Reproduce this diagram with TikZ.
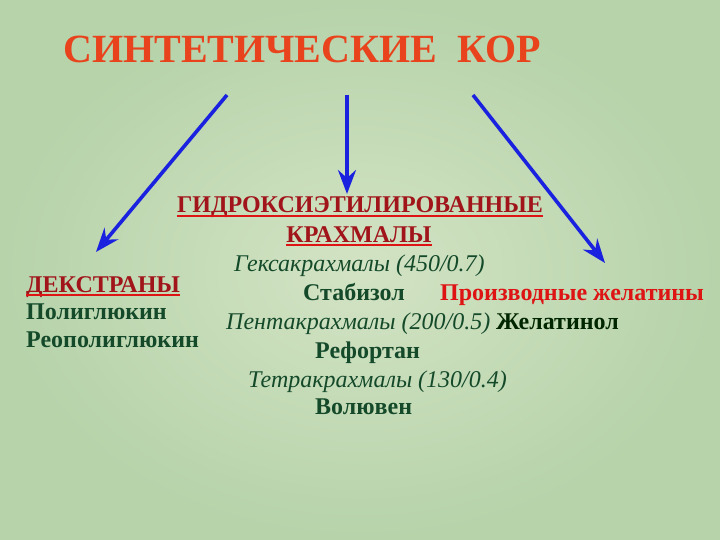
\documentclass[tikz,border=0pt]{standalone}
\usepackage{fontspec}
\setmainfont{Liberation Serif}
\usetikzlibrary{arrows.meta,positioning}
\definecolor{bgin}{HTML}{D3E3C4}
\definecolor{bgout}{HTML}{B6D3AA}
\definecolor{titlered}{HTML}{E8431C}
\definecolor{darkred}{HTML}{A0141A}
\definecolor{brightred}{HTML}{DE1414}
\definecolor{drgreen}{HTML}{144A2A}
\definecolor{arrowblue}{HTML}{1A22E0}
\tikzset{
  txt/.style={inner sep=0pt, anchor=base west, font=\fontsize{24}{28}\selectfont},
  head/.style={txt, font=\fontsize{24}{28}\selectfont\bfseries, text=darkred},
  drug/.style={txt, font=\fontsize{24}{28}\selectfont\bfseries, text=drgreen},
  group/.style={txt, font=\fontsize{24}{28}\selectfont\itshape, text=drgreen},
  uline/.style={draw=brightred, line width=2.2pt},
  bluearrow/.style={draw=arrowblue, line width=3.6pt,
    -{Stealth[length=24pt,width=18pt,inset=8pt]}}
}
\begin{document}
\begin{tikzpicture}[x=1pt,y=-1pt]
  \useasboundingbox (0,0) rectangle (720,540);
  \shade[inner color=bgin, outer color=bgout] (0,0) rectangle (720,540);

  % title
  \node (title) [txt, font=\fontsize{40}{44}\selectfont\bfseries, text=titlered]
    at (63,63) {СИНТЕТИЧЕСКИЕ\ \ КОР};

  % hydroxyethyl starches
  \node (hes1) [head, anchor=base] at (360,213) {ГИДРОКСИЭТИЛИРОВАННЫЕ};
  \node (hes2) [head, anchor=base] at (359,242) {КРАХМАЛЫ};
  \node (hexa) [group] at (234,271) {Гексакрахмалы (450/0.7)};
  \node (stab) [drug] at (303,300) {Стабизол};
  \node (penta) [group] at (226,329) {Пентакрахмалы (200/0.5)};
  \node (refo) [drug] at (315,358) {Рефортан};
  \node (tetra) [group] at (248,387) {Тетракрахмалы (130/0.4)};
  \node (volu) [drug] at (315,414) {Волювен};

  % dextrans
  \node (dex) [head] at (26,292) {ДЕКСТРАНЫ};
  \node (poly) [drug] at (26,319) {Полиглюкин};
  \node (reo) [drug] at (26,347) {Реополиглюкин};

  % gelatin
  \node (gel) [txt, font=\fontsize{24}{28}\selectfont\bfseries, text=brightred]
    at (440,300) {Производные желатины};
  \node (gelat) [txt, font=\fontsize{24}{28}\selectfont\bfseries, text=black!85!green]
    at (496,329) {Желатинол};

  \foreach \n in {hes1,hes2,dex}
    \draw[uline] ([yshift=-3pt]\n.base west) -- ([yshift=-3pt]\n.base east);

  % arrows
  \coordinate (l0) at (227,95);  \coordinate (l1) at (96,252);
  \coordinate (m0) at (347,95);  \coordinate (m1) at (347,194);
  \coordinate (r0) at (473,95);  \coordinate (r1) at (605,263);
  \draw[bluearrow] (l0) -- (l1);
  \draw[bluearrow] (m0) -- (m1);
  \draw[bluearrow] (r0) -- (r1);
\end{tikzpicture}
\end{document}
